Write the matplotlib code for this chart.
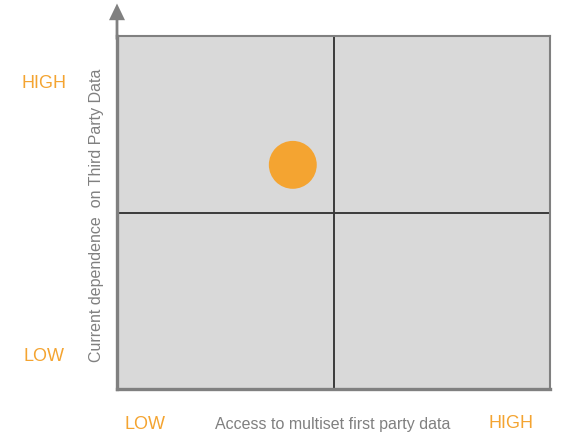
import matplotlib.pyplot as plt

plt.rcParams['font.family'] = ['Liberation Sans', 'DejaVu Sans']

# quadrant position of the company (fractions of each axis)
access_first_party = [0.406]
third_party_dependence = [0.635]
x_labels = ["LOW", "HIGH"]
y_labels = ["LOW", "HIGH"]
x_title = "Access to multiset first party data"
y_title = "Current dependence  on Third Party Data"

orange = "#f4a431"
gray = "#808080"

fig = plt.figure(figsize=(5.61, 4.35), dpi=100)
ax = fig.add_axes([117 / 561, 45 / 435, 433 / 561, 353 / 435])
ax.set_facecolor("#d9d9d9")
ax.set_xlim(0, 1)
ax.set_ylim(0, 1)
ax.set_xticks([])
ax.set_yticks([])

for side in ["top", "right"]:
    ax.spines[side].set_color(gray)
    ax.spines[side].set_linewidth(1.5)
for side in ["left", "bottom"]:
    ax.spines[side].set_color(gray)
    ax.spines[side].set_linewidth(2.4)

# quadrant dividers
ax.axvline(0.5, color="#3a3a3a", lw=1.4)
ax.axhline(0.5, color="#3a3a3a", lw=1.4)

ax.scatter(access_first_party, third_party_dependence, s=1190, color=orange,
           edgecolors="none", zorder=3)

# arrow on the vertical axis
ax.annotate("", xy=(0, 1.092), xytext=(0, 0.99), xycoords="axes fraction",
            arrowprops=dict(width=2.0, headwidth=11.5, headlength=12,
                            color=gray, lw=0, shrink=0),
            annotation_clip=False)

fig.text(44 / 561, 1 - 83 / 435, y_labels[1], color=orange, fontsize=13,
         ha="center", va="center")
fig.text(44 / 561, 1 - 357 / 435, y_labels[0], color=orange, fontsize=13,
         ha="center", va="center")
fig.text(145 / 561, 1 - 425 / 435, x_labels[0], color=orange, fontsize=13,
         ha="center", va="center")
fig.text(511 / 561, 1 - 424 / 435, x_labels[1], color=orange, fontsize=13,
         ha="center", va="center")

fig.text(333 / 561, 1 - 425 / 435, x_title, color=gray, fontsize=11.5,
         ha="center", va="center")
fig.text(97 / 561, 1 - 215 / 435, y_title, color=gray, fontsize=11.5,
         ha="center", va="center", rotation=90)

fig.savefig("out.png", dpi=100)
